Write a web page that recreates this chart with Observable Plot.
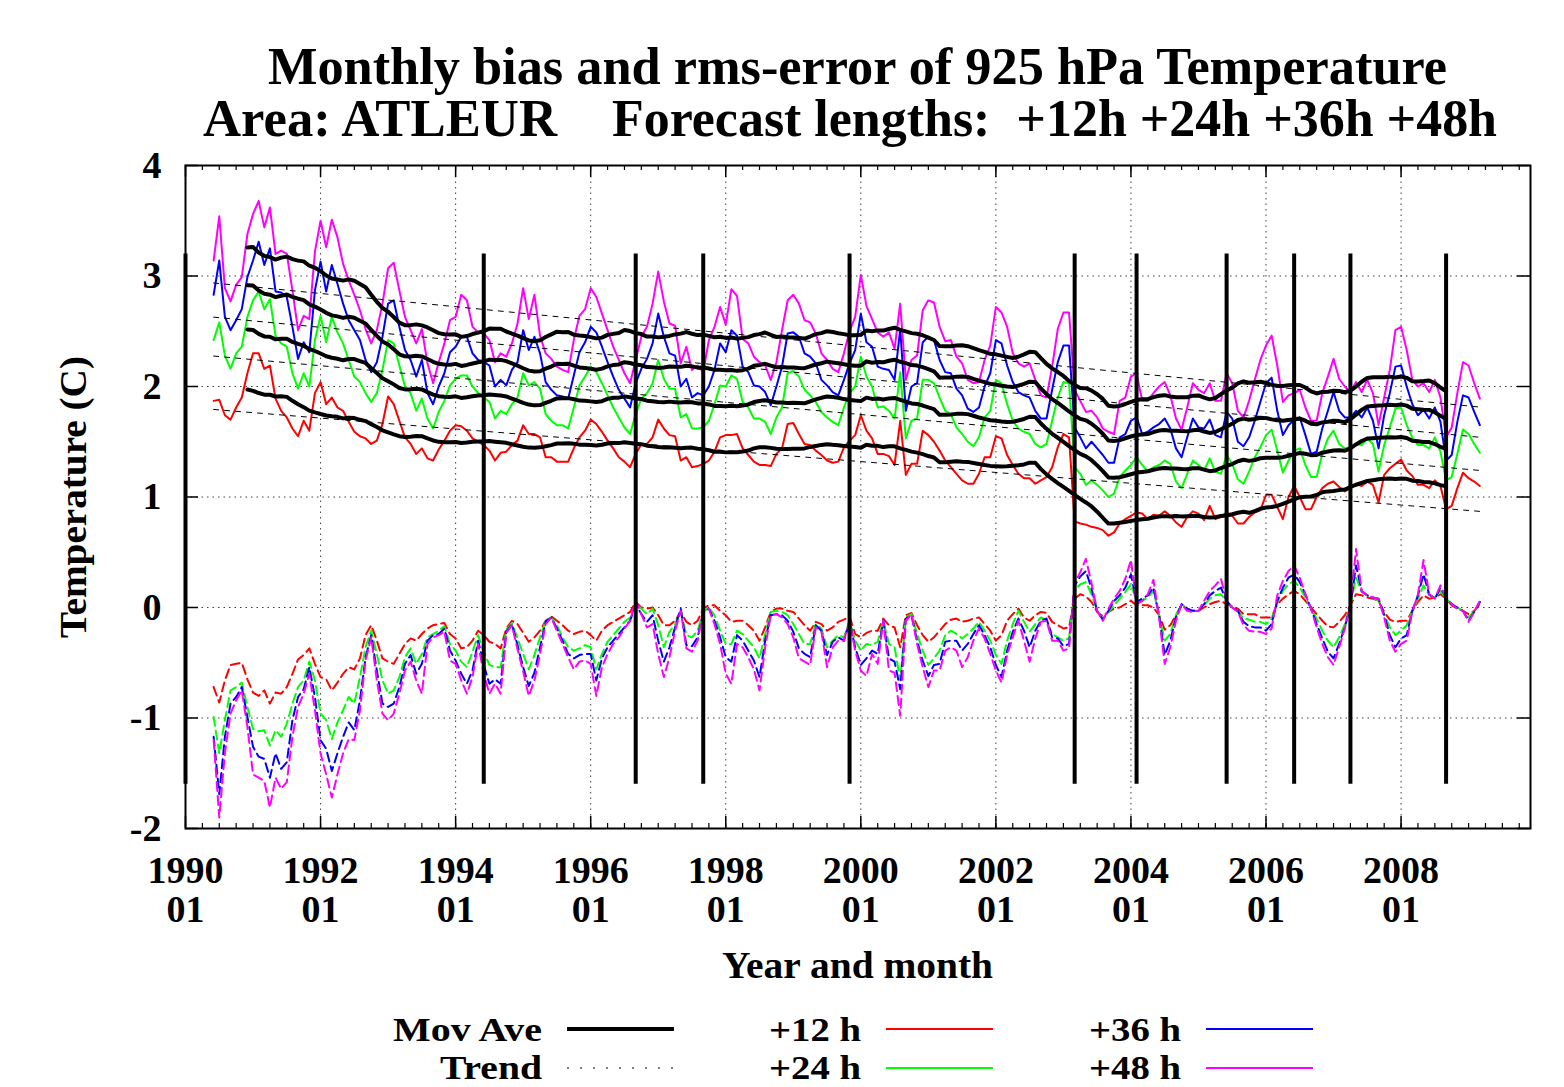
<!DOCTYPE html>
<html><head><meta charset="utf-8">
<script src="https://cdn.jsdelivr.net/npm/d3@7"></script>
<script src="https://cdn.jsdelivr.net/npm/@observablehq/plot@0.6"></script>
<style>body{margin:0;background:#fff}</style>
</head><body><div id="chart"></div>
<script>
// months counted from 1990-01; first value is 1990-06
const startMonth = 5;
const seriesNames = ["+12 h", "+24 h", "+36 h", "+48 h"];
const seriesColors = ["#ff0000", "#00ff00", "#0000ff", "#ff00ff"];

// monthly rms-error (C)
const rms12 = [
1.87,1.88,1.74,1.70,1.81,1.90,2.12,2.30,2.30,2.16,2.19,1.89,1.78,1.72,1.62,1.55,1.69,1.60,1.94,2.04,1.84,1.90,1.81,1.78,1.68,1.59,1.55,1.53,1.48,1.51,1.66,1.91,1.84,1.69,1.54,1.48,1.39,1.44,1.35,1.33,1.43,1.51,1.60,1.65,1.64,1.60,1.53,1.50,1.47,1.42,1.33,1.40,1.41,1.47,1.51,1.65,
1.57,1.57,1.54,1.36,1.36,1.32,1.32,1.32,1.44,1.54,1.60,1.70,1.66,1.59,1.51,1.44,1.36,1.32,1.27,1.39,1.48,1.48,1.54,1.70,1.62,1.56,1.55,1.33,1.36,1.27,1.28,1.30,1.33,1.41,1.54,1.56,1.56,1.57,1.44,1.38,1.32,1.29,1.29,1.28,1.39,1.44,1.66,1.67,1.57,1.48,1.47,1.42,1.38,1.33,1.31,1.32,
1.45,1.51,1.56,1.74,1.60,1.53,1.39,1.39,1.37,1.29,1.69,1.20,1.30,1.30,1.60,1.56,1.50,1.42,1.33,1.27,1.21,1.15,1.12,1.12,1.21,1.36,1.36,1.55,1.53,1.38,1.29,1.21,1.17,1.17,1.12,1.15,1.18,1.27,1.45,1.57,1.54,0.78,0.76,0.75,0.73,0.72,0.70,0.65,0.68,0.76,0.80,0.83,0.86,
0.85,0.80,0.84,0.83,0.87,0.83,0.77,0.73,0.82,0.87,0.85,0.79,0.92,0.80,0.82,0.86,0.83,0.76,0.76,0.82,0.86,0.88,1.02,1.02,0.91,0.80,1.00,1.10,1.00,0.89,0.89,1.00,1.08,1.12,1.14,1.09,1.05,1.08,1.12,1.10,1.14,1.11,0.95,1.20,1.26,1.30,1.34,1.24,1.19,1.11,1.11,1.08,1.15,1.10,0.89,0.92,1.08,1.22,1.17,1.14,1.10];
const rms24 = [
2.42,2.58,2.28,2.16,2.30,2.36,2.63,2.78,2.86,2.70,2.79,2.46,2.39,2.36,2.12,1.98,2.12,2.00,2.42,2.64,2.40,2.63,2.49,2.39,2.24,2.09,2.04,1.94,1.86,1.94,2.15,2.42,2.39,2.19,2.00,1.94,1.78,1.89,1.71,1.62,1.77,1.87,2.01,2.07,2.10,2.10,2.00,1.94,1.90,1.86,1.71,1.78,1.75,1.84,1.90,2.12,
2.01,2.04,1.98,1.75,1.69,1.65,1.65,1.62,1.81,2.01,2.09,2.18,2.13,2.03,1.92,1.81,1.72,1.63,1.57,1.75,1.89,1.94,2.03,2.24,2.07,1.98,1.98,1.72,1.75,1.62,1.62,1.63,1.69,1.84,2.01,2.00,2.10,2.07,1.86,1.81,1.71,1.71,1.68,1.57,1.72,1.81,2.12,2.14,2.09,1.97,1.92,1.86,1.77,1.72,1.68,1.65,
1.81,1.94,2.00,2.27,2.09,2.00,1.81,1.82,1.78,1.71,2.13,1.53,1.69,1.71,2.06,2.06,2.03,1.90,1.78,1.75,1.63,1.57,1.50,1.46,1.54,1.72,1.78,2.06,2.03,1.84,1.69,1.62,1.59,1.57,1.48,1.45,1.48,1.69,1.90,2.04,2.03,1.27,1.21,1.11,1.15,1.11,1.06,1.00,1.03,1.18,1.24,1.29,1.36,
1.29,1.23,1.27,1.29,1.33,1.30,1.14,1.08,1.21,1.33,1.29,1.24,1.35,1.23,1.21,1.38,1.30,1.16,1.12,1.23,1.36,1.45,1.56,1.61,1.42,1.22,1.33,1.42,1.44,1.29,1.18,1.18,1.39,1.53,1.60,1.48,1.44,1.45,1.48,1.47,1.53,1.48,1.23,1.47,1.63,1.80,1.81,1.65,1.54,1.47,1.47,1.44,1.54,1.41,1.15,1.18,1.39,1.61,1.57,1.48,1.40];
const rms36 = [
2.83,3.14,2.63,2.51,2.60,2.70,2.99,3.14,3.31,3.10,3.25,2.86,2.85,2.81,2.54,2.25,2.40,2.31,2.87,3.13,2.86,3.10,2.93,2.75,2.60,2.51,2.42,2.24,2.13,2.22,2.45,2.75,2.78,2.54,2.33,2.24,2.09,2.24,1.94,1.84,2.00,2.12,2.31,2.36,2.45,2.45,2.30,2.24,2.22,2.19,2.00,2.06,2.01,2.15,2.22,2.51,
2.33,2.45,2.30,2.04,1.97,1.92,1.91,1.89,2.10,2.31,2.40,2.54,2.49,2.36,2.22,2.09,1.97,1.89,1.81,2.03,2.16,2.25,2.39,2.66,2.45,2.30,2.28,2.00,2.07,1.90,1.94,1.92,2.00,2.15,2.39,2.31,2.51,2.46,2.18,2.13,2.01,2.00,1.95,1.83,2.00,2.18,2.48,2.49,2.45,2.30,2.27,2.21,2.06,2.01,1.95,1.92,
2.06,2.21,2.33,2.66,2.40,2.36,2.18,2.16,2.15,2.06,2.52,1.78,2.00,2.03,2.40,2.45,2.42,2.24,2.13,2.12,1.98,1.92,1.80,1.77,1.81,2.00,2.12,2.42,2.39,2.19,2.04,1.95,1.92,1.90,1.78,1.71,1.71,1.97,2.22,2.37,2.37,1.63,1.54,1.44,1.50,1.44,1.38,1.31,1.31,1.54,1.57,1.69,1.72,
1.57,1.59,1.63,1.66,1.71,1.62,1.44,1.36,1.54,1.71,1.63,1.62,1.70,1.56,1.54,1.77,1.71,1.50,1.46,1.54,1.69,1.86,2.03,2.08,1.78,1.56,1.65,1.70,1.72,1.56,1.39,1.41,1.62,1.78,1.95,1.78,1.72,1.72,1.78,1.72,1.81,1.69,1.44,1.74,1.94,2.18,2.19,2.00,1.84,1.74,1.79,1.71,1.81,1.68,1.33,1.38,1.68,1.92,1.90,1.77,1.65];
const rms48 = [
3.14,3.54,2.89,2.77,2.92,2.99,3.38,3.56,3.68,3.44,3.62,3.20,3.23,3.20,2.87,2.51,2.64,2.61,3.22,3.50,3.26,3.51,3.35,3.11,2.96,2.83,2.69,2.52,2.39,2.51,2.75,3.07,3.12,2.87,2.63,2.51,2.39,2.52,2.21,2.03,2.22,2.39,2.60,2.63,2.83,2.78,2.54,2.49,2.48,2.42,2.22,2.30,2.27,2.39,2.57,2.89,
2.61,2.83,2.46,2.30,2.25,2.18,2.15,2.13,2.42,2.64,2.70,2.89,2.81,2.66,2.51,2.36,2.24,2.12,2.03,2.24,2.45,2.54,2.75,3.04,2.77,2.57,2.55,2.21,2.36,2.15,2.19,2.13,2.42,2.54,2.72,2.56,2.88,2.82,2.43,2.39,2.27,2.22,2.19,2.06,2.22,2.51,2.78,2.83,2.75,2.60,2.58,2.48,2.30,2.24,2.16,2.13,
2.30,2.50,2.63,3.01,2.73,2.61,2.49,2.45,2.49,2.34,2.75,2.06,2.24,2.28,2.69,2.78,2.76,2.54,2.41,2.42,2.27,2.21,2.06,2.03,2.04,2.24,2.37,2.72,2.67,2.54,2.30,2.21,2.18,2.21,2.06,1.92,1.90,2.18,2.52,2.67,2.67,1.97,1.87,1.77,1.78,1.72,1.62,1.59,1.57,1.87,1.90,2.09,2.12,
1.87,1.87,1.94,2.00,2.04,1.92,1.71,1.61,1.81,2.03,1.97,1.94,2.03,1.87,1.87,2.12,2.03,1.78,1.72,1.87,2.06,2.24,2.37,2.46,2.19,1.86,1.92,1.94,1.97,1.81,1.69,1.69,1.94,2.09,2.25,2.07,2.00,1.95,2.04,1.95,2.06,1.94,1.65,1.90,2.15,2.51,2.54,2.33,2.06,2.00,2.03,1.95,2.06,1.90,1.54,1.63,1.94,2.22,2.19,2.03,1.89];

// monthly bias (C)
const bias12 = [
-0.72,-0.86,-0.66,-0.52,-0.51,-0.50,-0.65,-0.77,-0.80,-0.75,-0.87,-0.77,-0.78,-0.72,-0.60,-0.47,-0.43,-0.37,-0.51,-0.63,-0.65,-0.75,-0.68,-0.60,-0.54,-0.56,-0.46,-0.25,-0.16,-0.30,-0.46,-0.49,-0.51,-0.42,-0.33,-0.28,-0.30,-0.24,-0.19,-0.16,-0.15,-0.14,-0.24,-0.28,-0.37,-0.36,-0.30,-0.21,-0.25,-0.31,-0.33,-0.37,-0.19,-0.12,-0.15,-0.23,
-0.31,-0.27,-0.21,-0.12,-0.08,-0.12,-0.16,-0.21,-0.24,-0.22,-0.21,-0.25,-0.30,-0.21,-0.16,-0.13,-0.10,-0.07,-0.04,0.05,0.00,-0.01,0.00,-0.07,-0.16,-0.16,-0.12,-0.04,-0.13,-0.16,-0.12,-0.01,0.02,0.02,-0.03,-0.07,-0.13,-0.12,-0.12,-0.16,-0.21,-0.30,-0.18,-0.04,-0.01,-0.01,-0.03,-0.04,-0.10,-0.16,-0.21,-0.13,-0.15,-0.21,-0.18,-0.13,
-0.11,-0.08,-0.24,-0.27,-0.23,-0.21,-0.21,-0.10,-0.16,-0.18,-0.36,-0.07,-0.05,-0.16,-0.25,-0.31,-0.27,-0.21,-0.15,-0.11,-0.10,-0.13,-0.12,-0.10,-0.09,-0.15,-0.21,-0.30,-0.25,-0.12,-0.06,-0.01,-0.09,-0.12,-0.07,-0.04,-0.05,-0.13,-0.16,-0.19,-0.18,0.08,0.12,0.10,0.05,-0.04,-0.08,-0.04,-0.01,0.00,0.03,0.06,0.02,
0.02,0.02,0.00,-0.07,-0.20,-0.16,-0.07,0.02,-0.01,-0.03,-0.03,0.00,0.03,0.05,0.06,0.03,0.01,-0.01,-0.06,-0.06,-0.06,-0.09,-0.09,-0.09,0.03,0.08,0.12,0.15,0.12,0.06,0.00,-0.06,-0.12,-0.17,-0.18,-0.13,-0.07,0.02,0.12,0.11,0.09,0.08,0.06,-0.04,-0.11,-0.13,-0.12,-0.12,-0.03,0.05,0.11,0.08,0.09,0.12,0.08,0.02,-0.01,-0.03,-0.06,-0.03,0.03];
const bias24 = [
-0.99,-1.32,-1.02,-0.75,-0.72,-0.68,-0.90,-1.10,-1.12,-1.11,-1.25,-1.11,-1.17,-1.05,-0.87,-0.72,-0.66,-0.49,-0.66,-0.96,-1.02,-1.19,-1.04,-0.93,-0.81,-0.87,-0.63,-0.36,-0.21,-0.42,-0.66,-0.78,-0.75,-0.63,-0.45,-0.37,-0.51,-0.42,-0.27,-0.24,-0.21,-0.17,-0.33,-0.39,-0.49,-0.54,-0.40,-0.25,-0.40,-0.52,-0.54,-0.54,-0.20,-0.14,-0.28,-0.42,
-0.56,-0.43,-0.27,-0.12,-0.09,-0.16,-0.27,-0.36,-0.39,-0.37,-0.34,-0.36,-0.56,-0.42,-0.31,-0.25,-0.19,-0.13,-0.09,0.03,-0.01,-0.06,-0.01,-0.16,-0.36,-0.22,-0.15,-0.03,-0.25,-0.27,-0.21,-0.04,0.00,-0.07,-0.21,-0.33,-0.33,-0.21,-0.24,-0.30,-0.36,-0.46,-0.24,-0.04,-0.03,-0.04,-0.07,-0.15,-0.24,-0.33,-0.33,-0.15,-0.19,-0.36,-0.30,-0.25,
-0.27,-0.12,-0.30,-0.39,-0.33,-0.34,-0.31,-0.12,-0.33,-0.36,-0.66,-0.09,-0.06,-0.24,-0.39,-0.52,-0.46,-0.39,-0.25,-0.21,-0.24,-0.28,-0.24,-0.19,-0.13,-0.21,-0.30,-0.43,-0.51,-0.30,-0.15,-0.03,-0.13,-0.22,-0.15,-0.09,-0.11,-0.24,-0.27,-0.30,-0.28,0.16,0.21,0.23,0.12,-0.03,-0.10,-0.04,0.02,0.08,0.14,0.21,0.06,
0.06,0.09,0.15,-0.07,-0.30,-0.24,-0.07,0.03,-0.01,-0.03,-0.03,0.02,0.08,0.11,0.12,0.05,0.00,-0.03,-0.10,-0.11,-0.13,-0.13,-0.15,-0.10,0.05,0.15,0.21,0.24,0.18,0.09,-0.01,-0.10,-0.21,-0.30,-0.36,-0.27,-0.15,0.02,0.27,0.14,0.11,0.09,0.06,-0.06,-0.18,-0.25,-0.21,-0.16,-0.03,0.08,0.20,0.11,0.09,0.15,0.08,0.03,0.00,-0.03,-0.09,-0.03,0.05];
const bias36 = [
-1.17,-1.69,-1.17,-0.87,-0.81,-0.72,-0.99,-1.26,-1.35,-1.37,-1.54,-1.32,-1.46,-1.40,-1.02,-0.81,-0.74,-0.54,-0.81,-1.20,-1.28,-1.48,-1.32,-1.17,-1.04,-1.11,-0.84,-0.45,-0.25,-0.57,-0.87,-0.90,-0.87,-0.72,-0.51,-0.43,-0.60,-0.51,-0.30,-0.25,-0.24,-0.19,-0.39,-0.48,-0.60,-0.69,-0.57,-0.30,-0.52,-0.69,-0.65,-0.69,-0.22,-0.15,-0.34,-0.54,
-0.71,-0.59,-0.36,-0.13,-0.09,-0.19,-0.30,-0.42,-0.46,-0.43,-0.42,-0.42,-0.66,-0.46,-0.36,-0.30,-0.24,-0.18,-0.12,0.03,-0.06,-0.13,-0.07,-0.30,-0.49,-0.36,-0.18,-0.01,-0.34,-0.35,-0.27,-0.04,-0.01,-0.12,-0.27,-0.45,-0.49,-0.25,-0.30,-0.39,-0.48,-0.63,-0.30,-0.07,-0.06,-0.07,-0.12,-0.22,-0.37,-0.42,-0.45,-0.16,-0.21,-0.43,-0.31,-0.27,
-0.30,-0.13,-0.36,-0.52,-0.46,-0.39,-0.42,-0.12,-0.46,-0.49,-0.74,-0.10,-0.07,-0.30,-0.48,-0.62,-0.52,-0.51,-0.31,-0.30,-0.30,-0.39,-0.33,-0.24,-0.16,-0.25,-0.36,-0.52,-0.63,-0.39,-0.22,-0.10,-0.21,-0.36,-0.21,-0.12,-0.10,-0.27,-0.28,-0.35,-0.33,0.20,0.28,0.33,0.17,-0.03,-0.11,-0.03,0.06,0.11,0.18,0.30,0.05,
0.08,0.11,0.18,-0.07,-0.43,-0.30,-0.09,0.03,-0.01,-0.03,-0.03,0.03,0.11,0.15,0.18,0.06,0.00,-0.03,-0.13,-0.17,-0.18,-0.18,-0.21,-0.15,0.06,0.18,0.27,0.30,0.23,0.12,-0.01,-0.15,-0.28,-0.40,-0.46,-0.33,-0.18,0.02,0.38,0.15,0.11,0.09,0.08,-0.07,-0.25,-0.36,-0.28,-0.25,-0.03,0.11,0.30,0.12,0.08,0.18,0.09,0.03,0.00,-0.03,-0.12,-0.04,0.05];
const bias48 = [
-1.20,-1.90,-1.32,-0.96,-0.84,-0.75,-1.08,-1.51,-1.54,-1.57,-1.81,-1.54,-1.64,-1.58,-1.17,-0.90,-0.78,-0.60,-0.93,-1.32,-1.51,-1.72,-1.51,-1.32,-1.19,-1.20,-0.93,-0.48,-0.27,-0.66,-0.96,-1.02,-0.96,-0.78,-0.57,-0.49,-0.66,-0.78,-0.33,-0.27,-0.25,-0.22,-0.48,-0.51,-0.66,-0.78,-0.63,-0.33,-0.60,-0.78,-0.69,-0.78,-0.23,-0.16,-0.38,-0.58,
-0.80,-0.66,-0.42,-0.15,-0.09,-0.21,-0.33,-0.45,-0.56,-0.49,-0.48,-0.51,-0.80,-0.54,-0.42,-0.33,-0.27,-0.19,-0.12,0.06,-0.06,-0.18,-0.15,-0.42,-0.63,-0.45,-0.21,-0.03,-0.37,-0.40,-0.30,-0.03,-0.01,-0.15,-0.33,-0.60,-0.69,-0.33,-0.36,-0.45,-0.56,-0.75,-0.36,-0.07,-0.06,-0.09,-0.15,-0.27,-0.46,-0.49,-0.52,-0.18,-0.22,-0.54,-0.36,-0.30,
-0.30,-0.12,-0.39,-0.57,-0.62,-0.42,-0.51,-0.12,-0.57,-0.59,-0.98,-0.12,-0.06,-0.33,-0.54,-0.72,-0.57,-0.57,-0.39,-0.36,-0.39,-0.54,-0.45,-0.30,-0.19,-0.28,-0.42,-0.57,-0.68,-0.43,-0.27,-0.12,-0.30,-0.49,-0.28,-0.13,-0.12,-0.30,-0.30,-0.39,-0.37,0.22,0.32,0.44,0.22,-0.03,-0.12,-0.01,0.08,0.15,0.26,0.43,0.03,
0.06,0.12,0.25,-0.09,-0.51,-0.36,-0.12,0.03,-0.03,-0.04,-0.03,0.06,0.15,0.20,0.26,0.06,0.00,-0.04,-0.16,-0.21,-0.22,-0.22,-0.24,-0.19,0.11,0.24,0.33,0.38,0.27,0.12,-0.01,-0.18,-0.33,-0.45,-0.52,-0.36,-0.19,0.02,0.53,0.15,0.11,0.09,0.08,-0.09,-0.30,-0.40,-0.33,-0.30,-0.04,0.12,0.43,0.12,0.08,0.20,0.09,0.03,-0.01,-0.03,-0.13,-0.04,0.06];

// model change dates (months from 1990-01) and the vertical extent of their markers (C)
const eventMonths = [0, 53, 80, 92, 118, 158, 169, 185, 197, 207, 224];
const eventExtent = [-1.6, 3.2];

const xDomain = [0, 239];
const yDomain = [-2, 4];
const majorXTicks = d3.range(0, 240, 24);
const minorXTicks = d3.range(0, 240, 3);
const yTicks = [-2, -1, 0, 1, 2, 3, 4];

const rows = (arr, k) => arr.map((v, i) => ({m: startMonth + i, v, series: seriesNames[k]}));
const rmsRows = [rms12, rms24, rms36, rms48].flatMap(rows);
const biasRows = [bias12, bias24, bias36, bias48].flatMap(rows);

const W = 1564, H = 1087;
const mL = 185, mR = 34, mT = 165, mB = 259;
const fw = W - mL - mR, fh = H - mT - mB;
const FONT = "'Liberation Serif','Times New Roman',Times,serif";

const plot = Plot.plot({
  width: W, height: H,
  marginLeft: mL, marginRight: mR, marginTop: mT, marginBottom: mB,
  style: {fontFamily: FONT, background: "#fff", color: "#000"},
  x: {domain: xDomain},
  y: {domain: yDomain},
  color: {domain: seriesNames, range: seriesColors},
  marks: [
    Plot.ruleX(majorXTicks.slice(1), {x: d => d, stroke: "#000", strokeOpacity: 0.75, strokeWidth: 1, strokeDasharray: "1.5,4"}),
    Plot.ruleY(yTicks.slice(1, -1), {y: d => d, stroke: "#000", strokeOpacity: 0.75, strokeWidth: 1, strokeDasharray: "1.5,4"}),
    Plot.lineY(rmsRows, {x: "m", y: "v", z: "series", stroke: "series", strokeWidth: 2}),
    Plot.lineY(biasRows, {x: "m", y: "v", z: "series", stroke: "series", strokeWidth: 2, strokeDasharray: "9,5"}),
    Plot.lineY(rmsRows, Plot.windowY({k: 13, reduce: "mean", strict: true}, {x: "m", y: "v", z: "series", stroke: "#000", strokeWidth: 4})),
    Plot.linearRegressionY(rmsRows, {x: "m", y: "v", z: "series", stroke: "#000", strokeWidth: 1, strokeDasharray: "5,6", ci: 0}),
    Plot.ruleX(eventMonths, {x: d => d, y1: eventExtent[0], y2: eventExtent[1], stroke: "#000", strokeWidth: 4}),
    // inward tick marks
    Plot.ruleX(minorXTicks, {x: d => d, insetTop: fh - 5, stroke: "#000", strokeWidth: 1.2}),
    Plot.ruleX(minorXTicks, {x: d => d, insetBottom: fh - 5, stroke: "#000", strokeWidth: 1.2}),
    Plot.ruleX(majorXTicks, {x: d => d, insetTop: fh - 12, stroke: "#000", strokeWidth: 1.5}),
    Plot.ruleX(majorXTicks, {x: d => d, insetBottom: fh - 12, stroke: "#000", strokeWidth: 1.5}),
    Plot.ruleY(yTicks, {y: d => d, insetRight: fw - 13, stroke: "#000", strokeWidth: 1.5}),
    Plot.ruleY(yTicks, {y: d => d, insetLeft: fw - 13, stroke: "#000", strokeWidth: 1.5}),
    Plot.frame({stroke: "#000", strokeWidth: 2}),
    Plot.axisX(majorXTicks, {anchor: "bottom", tickSize: 0, tickPadding: 27, label: null,
      tickFormat: m => `${1990 + m / 12}\n01`, fontSize: 38, fontWeight: "bold", lineHeight: 1.03}),
    Plot.axisY(yTicks, {anchor: "left", tickSize: 0, tickPadding: 24, label: null,
      tickFormat: d => String(d), fontSize: 38, fontWeight: "bold"})
  ]
});
document.getElementById("chart").appendChild(plot);

const svg = d3.select(plot);
function addText(str, x, y, opts = {}) {
  const t = svg.append("text")
    .attr("x", x).attr("y", y)
    .attr("font-family", FONT).attr("font-weight", "bold")
    .attr("font-size", opts.size || 38)
    .attr("fill", "#000")
    .attr("text-anchor", opts.anchor || "middle")
    .style("white-space", "pre")
    .text(str);
  if (opts.len) t.attr("textLength", opts.len).attr("lengthAdjust", "spacingAndGlyphs");
  if (opts.rotate) t.attr("transform", `rotate(${opts.rotate},${x},${y})`);
  return t;
}
// titles
addText("Monthly bias and rms-error of 925 hPa Temperature", 268, 84, {size: 52, anchor: "start", len: 1179});
addText("Area: ATLEUR", 203, 136, {size: 52, anchor: "start", len: 354});
addText("Forecast lengths:  +12h +24h +36h +48h", 612, 136, {size: 52, anchor: "start", len: 885});
// axis titles
addText("Year and month", 722, 978, {anchor: "start", len: 271});
addText("Temperature (C)", 86, 497, {rotate: -90, len: 282});

// legend (two rows)
const rowText = [1041, 1079];
const rowLine = [1029, 1068];
const legend = [
  {label: "Mov Ave", x: 542, len: 149, row: 0, stroke: "#000", w: 4, dash: null},
  {label: "Trend", x: 542, len: 102, row: 1, stroke: "#000", w: 1, dash: "2,11"},
  ...seriesNames.map((s, i) => ({label: s, x: i < 2 ? 861 : 1181, len: 92, row: i % 2, stroke: seriesColors[i], w: 2, dash: null}))
];
for (const L of legend) {
  addText(L.label, L.x, rowText[L.row], {anchor: "end", size: 33, len: L.len});
  const ly = rowLine[L.row];
  const ln = svg.append("line").attr("x1", L.x + 25).attr("x2", L.x + 132)
    .attr("y1", ly).attr("y2", ly).attr("stroke", L.stroke).attr("stroke-width", L.w);
  if (L.dash) ln.attr("stroke-dasharray", L.dash);
}
</script>
</body></html>
